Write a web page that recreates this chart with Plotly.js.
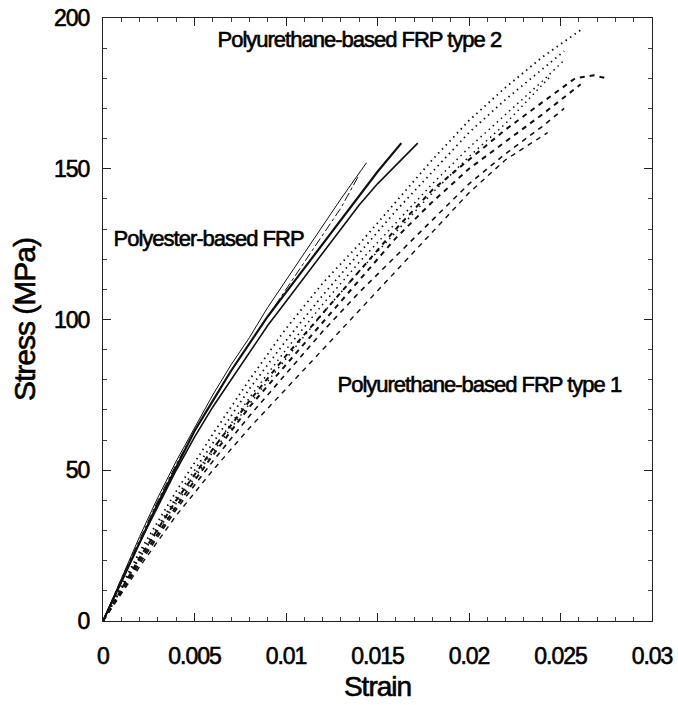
<!DOCTYPE html>
<html>
<head>
<meta charset="utf-8">
<script src="https://cdn.plot.ly/plotly-3.0.1.min.js"></script>
<style>
html,body{margin:0;padding:0;background:#fff;}
.main-svg text{letter-spacing:-1px;paint-order:stroke;stroke:#000;stroke-width:0.6px;}
</style>
</head>
<body>
<div id="chart" style="width:678px;height:705px;"></div>
<script>
// Polyester-based FRP (4 specimens)
var polyA_strain = [0,0.001,0.002,0.003,0.004,0.005,0.006,0.007,0.008,0.009,0.010,0.011,0.012,0.013,0.0144];
var polyA_stress = [0,14,28,41,53,64,75,85,94,104,113,122,131,140,152];
var polyB_strain = [0,0.001,0.002,0.003,0.004,0.005,0.006,0.007,0.008,0.009,0.010,0.011,0.012,0.013,0.0140];
var polyB_stress = [0,14,27,40,52,63,73,83,92,101,110,119,128,137,148];
var polyC_strain = [0,0.001,0.002,0.003,0.004,0.005,0.006,0.007,0.008,0.009,0.010,0.011,0.012,0.013,0.014,0.015,0.0163];
var polyC_stress = [0,13,26,39,51,63,73,83,92,101,109,117,125,133,141,149,158.5];
var polyD_strain = [0,0.001,0.002,0.003,0.004,0.005,0.006,0.007,0.008,0.009,0.010,0.011,0.012,0.013,0.014,0.015,0.016,0.0172];
var polyD_stress = [0,13,26,38,50,61,71,80,89,98,106,114,122,130,138,145,151,158.5];

// Polyurethane-based FRP type 2 (dotted)
var pu2A_strain = [0,0.002,0.004,0.006,0.008,0.010,0.012,0.014,0.016,0.018,0.020,0.022,0.024,0.0261];
var pu2A_stress = [0,23,43,62,80,97,112,125,139,153,166,177,187,196];
var pu2B_strain = [0,0.002,0.004,0.006,0.008,0.010,0.012,0.014,0.016,0.018,0.020,0.022,0.024,0.0252];
var pu2B_stress = [0,22,41,59,77,93,108,122,136,149,162,173,183,189];
var pu2C_strain = [0,0.002,0.004,0.006,0.008,0.010,0.012,0.014,0.016,0.018,0.020,0.022,0.024,0.0252];
var pu2C_stress = [0,21,40,57,74,90,105,119,132,145,157,168,179,186];
var pu2D_strain = [0,0.002,0.004,0.006,0.008,0.010,0.012,0.014,0.016,0.018,0.020,0.022,0.0245];
var pu2D_stress = [0,21,39,56,72,87,102,116,129,142,154,165,181];

// Polyurethane-based FRP type 1 (dashed)
var pu1A_strain = [0,0.002,0.004,0.006,0.008,0.010,0.012,0.014,0.016,0.018,0.020,0.022,0.024,0.0258,0.0268,0.0275];
var pu1A_stress = [0,21,40,57,73,88,102,116,130,143,153,163,172,180,181,180];
var pu1B_strain = [0,0.002,0.004,0.006,0.008,0.010,0.012,0.014,0.016,0.018,0.020,0.022,0.024,0.0261];
var pu1B_stress = [0,20,38,55,71,85,99,113,127,139,150,159,168,178];
var pu1C_strain = [0,0.002,0.004,0.006,0.008,0.010,0.012,0.014,0.016,0.018,0.020,0.022,0.024,0.0252];
var pu1C_stress = [0,19,37,53,68,82,96,109,121,133,145,155,164,170];
var pu1D_strain = [0,0.002,0.004,0.006,0.008,0.010,0.012,0.014,0.016,0.018,0.020,0.022,0.0243];
var pu1D_stress = [0,18,35,50,64,77,90,103,116,129,142,153,162];

var xTickVals = [0,0.005,0.01,0.015,0.02,0.025,0.03];
var xTickText = ['0','0.005','0.01','0.015','0.02','0.025','0.03'];
var yTickVals = [0,50,100,150,200];
var yTickText = ['0','50','100','150','200'];

var labelTexts = ['Polyurethane-based FRP type 2','Polyester-based FRP','Polyurethane-based FRP type 1'];
var labelX = [0.01404,0.00574,0.0206];
var labelY = [193,127,78.3];

function tr(x,y,dash,w){
  return {x:x,y:y,mode:'lines',type:'scatter',line:{color:'#111',width:w,dash:dash},hoverinfo:'skip',showlegend:false};
}
var data = [
  tr(polyA_strain,polyA_stress,'solid',1.0),
  tr(polyB_strain,polyB_stress,'dashdot',1.0),
  tr(polyC_strain,polyC_stress,'solid',2.2),
  tr(polyD_strain,polyD_stress,'solid',1.6),
  tr(pu2A_strain,pu2A_stress,'1.5px,4px',1.8),
  tr(pu2B_strain,pu2B_stress,'1.5px,4px',1.8),
  tr(pu2C_strain,pu2C_stress,'1.5px,4px',1.5),
  tr(pu2D_strain,pu2D_stress,'1.5px,4px',1.5),
  tr(pu1A_strain,pu1A_stress,'5px,5px',2),
  tr(pu1B_strain,pu1B_stress,'5px,5px',2),
  tr(pu1C_strain,pu1C_stress,'5px,5px',1.6),
  tr(pu1D_strain,pu1D_stress,'5px,5px',1.4)
];

var font = 'Arial, "Liberation Sans", Helvetica, sans-serif';
var annotations = labelTexts.map(function(t,i){
  return {x:labelX[i],y:labelY[i],xref:'x',yref:'y',text:t,showarrow:false,xanchor:'center',yanchor:'middle',font:{family:font,size:22,color:'#000'}};
});

var layout = {
  width:678,height:705,
  margin:{l:103,r:26,t:18,b:84},
  paper_bgcolor:'#fff',plot_bgcolor:'#fff',
  font:{family:font,color:'#000'},
  xaxis:{range:[0,0.03],tickvals:xTickVals,ticktext:xTickText,ticks:'inside',ticklen:8,tickwidth:1,tickcolor:'#222',
    minor:{dtick:0.001,ticks:'inside',ticklen:4,tickcolor:'#444',tickwidth:1},
    showline:true,linecolor:'#222',linewidth:1,mirror:'ticks',showgrid:false,zeroline:false,
    ticklabelstandoff:14,
    tickfont:{family:font,size:23,color:'#000'},
    title:{text:'Strain',font:{family:font,size:28,color:'#000'},standoff:8}},
  yaxis:{range:[0,200],tickvals:yTickVals,ticktext:yTickText,ticks:'inside',ticklen:8,tickwidth:1,tickcolor:'#222',
    minor:{dtick:10,ticks:'inside',ticklen:4,tickcolor:'#444',tickwidth:1},
    showline:true,linecolor:'#222',linewidth:1,mirror:'ticks',showgrid:false,zeroline:false,
    ticklabelstandoff:8,
    tickfont:{family:font,size:23,color:'#000'},
    title:{text:'Stress (MPa)',font:{family:font,size:30,color:'#000'},standoff:6}},
  annotations:annotations
};
Plotly.newPlot('chart',data,layout,{staticPlot:true,displayModeBar:false});
</script>
</body>
</html>
